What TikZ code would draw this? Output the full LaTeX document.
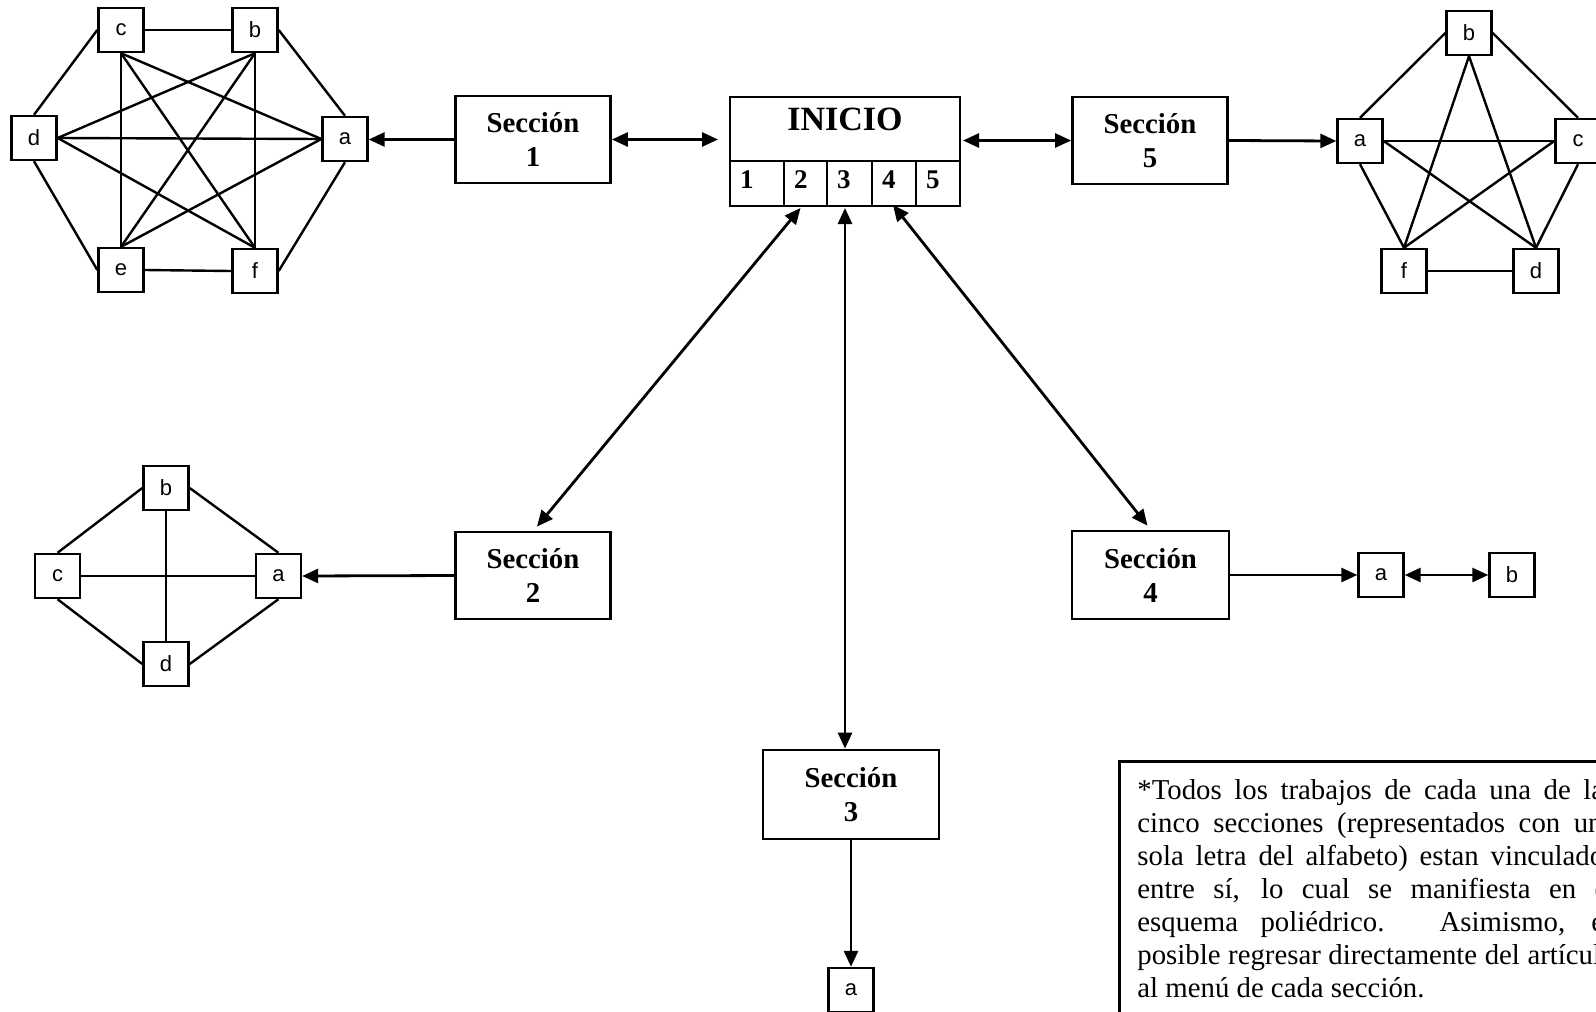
\documentclass[tikz,border=0pt]{standalone}
\usepackage{fontspec}
\setmainfont{Liberation Serif}
\newfontfamily\boxsans{Liberation Sans}
\usetikzlibrary{arrows.meta,calc}

\begin{document}
\begin{tikzpicture}[x=0.5pt,y=-0.5pt,
  lbox/.style={draw, line width=1.2pt, minimum width=22.5pt, minimum height=22pt,
    inner sep=0pt, font=\boxsans\fontsize{11}{12}\selectfont},
  secbox/.style={draw, line width=1.4pt, minimum width=77.5pt, minimum height=43.5pt,
    align=center, inner sep=0pt, font=\bfseries\fontsize{14.4}{17}\selectfont},
  cell/.style={draw, line width=1.1pt, outer sep=0pt, minimum height=22.5pt,
    inner xsep=5pt, inner ysep=0pt, align=left, text height=7pt, text depth=2pt,
    font=\bfseries\fontsize{13.5}{15}\selectfont},
  edge/.style={line width=1.2pt},
  link/.style={line width=1.4pt, -{Triangle[length=8pt,width=7pt]}},
  dlink/.style={line width=1.4pt,
    {Triangle[length=8pt,width=7pt]}-{Triangle[length=8pt,width=7pt]}},
]
\useasboundingbox (0,0) rectangle (1596,1012);
\clip (0,0) rectangle (1596,1012);

% ---- central menu ----
\node[draw, line width=1.4pt, outer sep=0pt, minimum width=115pt, minimum height=32pt,
  inner sep=0pt] (inicio) at (845,129) {};
\node[inner sep=0pt, font=\bfseries\fontsize{17}{20}\selectfont] (iniciotxt) at (845,119) {INICIO};
\node[cell, text width=17pt, anchor=north west] (c1) at (inicio.south west) {1};
\node[cell, text width=11.5pt, anchor=west] (c2) at (c1.east) {2};
\node[cell, text width=12.5pt, anchor=west] (c3) at (c2.east) {3};
\node[cell, text width=12pt, anchor=west] (c4) at (c3.east) {4};
\node[cell, text width=12pt, anchor=west] (c5) at (c4.east) {5};

% ---- sections ----
\node[secbox] (sec1) at (533,139.5) {Sección\\1};
\node[secbox] (sec2) at (533,575.5) {Sección\\2};
\node[secbox, minimum width=88pt, minimum height=44.5pt] (sec3) at (851,794.5) {Sección\\3};
\node[secbox, minimum width=78.5pt, minimum height=44pt] (sec4) at (1150.5,575) {Sección\\4};
\node[secbox] (sec5) at (1150,140.5) {Sección\\5};

% ---- section 1: six linked works ----
\node[lbox] (Lc) at (121,30) {c};
\node[lbox] (Lb) at (255,30) {b};
\node[lbox] (Ld) at (34,138) {d};
\node[lbox] (La) at (345,139) {a};
\node[lbox] (Le) at (121,270) {e};
\node[lbox] (Lf) at (255,271) {f};
\draw[edge] (Lc.east) -- (Lb.west);
\draw[edge] (Lb.east) -- (La.north);
\draw[edge] (La.south) -- (Lf.east);
\draw[edge] (Lf.west) -- (Le.east);
\draw[edge] (Le.west) -- (Ld.south);
\draw[edge] (Ld.north) -- (Lc.west);
\draw[edge] (Lc.south) -- (Le.north);
\draw[edge] (Lc.south) -- (Lf.north);
\draw[edge] (Lc.south) -- (La.west);
\draw[edge] (Lb.south) -- (Lf.north);
\draw[edge] (Lb.south) -- (Le.north);
\draw[edge] (Lb.south) -- (Ld.east);
\draw[edge] (Ld.east) -- (La.west);
\draw[edge] (Ld.east) -- (Lf.north);
\draw[edge] (Le.north) -- (La.west);

% ---- section 2: four linked works ----
\node[lbox] (Db) at (166,488) {b};
\node[lbox] (Dc) at (57.5,576) {c};
\node[lbox] (Da) at (278.5,576) {a};
\node[lbox] (Dd) at (166,664) {d};
\draw[edge] (Db.west) -- (Dc.north);
\draw[edge] (Db.east) -- (Da.north);
\draw[edge] (Dc.east) -- (Da.west);
\draw[edge] (Db.south) -- (Dd.north);
\draw[edge] (Dc.south) -- (Dd.west);
\draw[edge] (Da.south) -- (Dd.east);

% ---- section 3: one work ----
\node[lbox] (Sa) at (851,990) {a};

% ---- section 4: two works ----
\node[lbox] (Qa) at (1381,575) {a};
\node[lbox] (Qb) at (1512,575) {b};

% ---- section 5: five linked works ----
\node[lbox] (Pb) at (1469,33) {b};
\node[lbox] (Pa) at (1360,141) {a};
\node[lbox] (Pc) at (1578,141) {c};
\node[lbox] (Pf) at (1404,271) {f};
\node[lbox] (Pd) at (1536,271) {d};
\draw[edge] (Pa.north) -- (Pb.west);
\draw[edge] (Pb.east) -- (Pc.north);
\draw[edge] (Pc.south) -- (Pd.north);
\draw[edge] (Pd.west) -- (Pf.east);
\draw[edge] (Pf.north) -- (Pa.south);
\draw[edge] (Pa.east) -- (Pc.west);
\draw[edge] (Pa.east) -- (Pd.north);
\draw[edge] (Pb.south) -- (Pf.north);
\draw[edge] (Pb.south) -- (Pd.north);
\draw[edge] (Pc.west) -- (Pf.north);

% ---- connectors ----
\draw[link] (sec1.west) -- (sec1.west -| La.east);
\draw[dlink, shorten >=6pt] (sec1.east) -- (sec1.east -| inicio.west);
\draw[dlink, shorten <=1.5pt] (inicio.east |- sec5.west) -- (sec5.west);
\draw[link] (sec5.east) -- (Pa.west);
\coordinate (t2) at ($(c2.south)+(-5,2)$);
\coordinate (t3) at ($(c3.south)+(-4.5,2)$);
\coordinate (t4) at ($(c4.south)+(-1,-1)$);
\draw[dlink] (t2) -- ($(sec2.north)+(4,-4)$);
\draw[dlink] (t3) -- (t3 |- sec3.north);
\draw[dlink] (t4) -- ($(sec4.north)+(-3,-4)$);
\draw[link] (sec2.west) -- (Da.east);
\draw[link] (sec3.south) -- (Sa.north);
\draw[link] (sec4.east) -- (Qa.west);
\draw[dlink] (Qa.east) -- (Qb.west);

% ---- note ----
\node[draw, line width=1.4pt, anchor=north west, minimum width=300pt,
  minimum height=150pt] (nota) at (1118,760) {};
\node[anchor=base west, inner sep=0pt, font=\fontsize{14.4}{16.5}\selectfont]
  (notatxt) at (1137,799) {\parbox[t]{239pt}{%
\makebox[\linewidth][s]{*Todos los trabajos de cada una de las}\\
\makebox[\linewidth][s]{cinco secciones (representados con una}\\
\makebox[\linewidth][s]{sola letra del alfabeto) estan vinculados}\\
\makebox[\linewidth][s]{entre sí, lo cual se manifiesta en el}\\
\makebox[\linewidth][s]{esquema poliédrico. Asimismo, es}\\
\makebox[\linewidth][s]{posible regresar directamente del artículo}\\
al menú de cada sección.}};
\end{tikzpicture}
\end{document}
